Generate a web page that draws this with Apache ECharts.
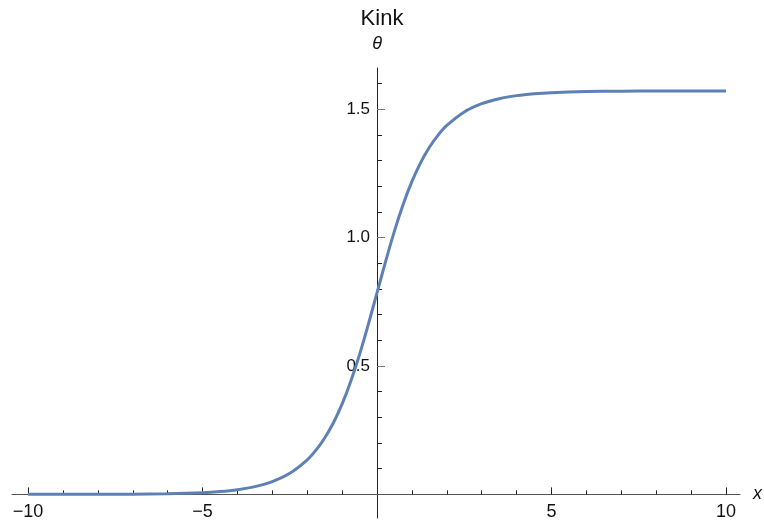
<!DOCTYPE html>
<html>
<head>
<meta charset="utf-8">
<script src="https://cdn.jsdelivr.net/npm/echarts@6/dist/echarts.min.js"></script>
<style>html,body{margin:0;padding:0;background:#fff}#c{width:764px;height:529px}</style>
</head>
<body>
<div id="c"></div>
<script>
const xValues = [-10,-9,-8,-7,-6,-5,-4.5,-4,-3.5,-3,-2.5,-2,-1.75,-1.5,-1.25,-1,-0.75,-0.5,-0.25,0,0.25,0.5,0.75,1,1.25,1.5,1.75,2,2.5,3,3.5,4,4.5,5,6,7,8,9,10];
const thetaValues = [0.0000,0.0001,0.0003,0.0009,0.0025,0.0067,0.0111,0.0183,0.0302,0.0498,0.0819,0.1345,0.1721,0.2195,0.2790,0.3525,0.4415,0.5450,0.6618,0.7854,0.9090,1.0258,1.1293,1.2183,1.2918,1.3513,1.3987,1.4363,1.4889,1.5210,1.5406,1.5525,1.5597,1.5641,1.5683,1.5699,1.5705,1.5707,1.5708];
const xMinorTicks = [-10,-9,-8,-7,-6,-5,-4,-3,-2,-1,1,2,3,4,5,6,7,8,9,10];
const xMajorTicks = [-10,-5,5,10];
const yMinorTicks = [0.1,0.2,0.3,0.4,0.5,0.6,0.7,0.8,0.9,1.0,1.1,1.2,1.3,1.4,1.5,1.6];
const yMajorTicks = [0.5,1.0,1.5];
const titleText = 'Kink';
const xName = 'x';
const yName = 'θ';

const W = 764, H = 529;
const XMIN = -10.46, XMAX = 10.40, YMIN = -0.092, YMAX = 1.66;
const G = {left: 12, right: 24, top: 68, bottom: 11};
const gw = W - G.left - G.right, gh = H - G.top - G.bottom;
// distance from the default axis positions (grid bottom / grid left) to the zero lines
const xAxisOffset = -(gh * (0 - YMIN) / (YMAX - YMIN));
const yAxisOffset = -(gw * (0 - XMIN) / (XMAX - XMIN));

const font = 'Liberation Sans, Arial, sans-serif';
const chart = echarts.init(document.getElementById('c'));
const gridPos = Object.assign({outerBoundsMode: 'none', containLabel: false}, G);
chart.setOption({
  animation: false,
  title: {text: titleText, left: 377, top: 3, textAlign: 'center',
    textStyle: {fontFamily: font, fontSize: 22, fontWeight: 'normal', color: '#111'}},
  grid: [Object.assign({}, gridPos), Object.assign({}, gridPos)],
  xAxis: [{
    gridIndex: 0, type: 'value', min: XMIN, max: XMAX, position: 'bottom', offset: xAxisOffset,
    name: xName, nameLocation: 'end', nameGap: 13,
    nameTextStyle: {fontFamily: font, fontSize: 18, fontStyle: 'italic', color: '#111', verticalAlign: 'middle', padding: [2,0,0,0]},
    axisLine: {show: true, onZero: false, lineStyle: {color: '#555', width: 1}},
    axisTick: {show: true, inside: true, length: 4, customValues: xMinorTicks, lineStyle: {color: '#222'}},
    axisLabel: {show: true, customValues: xMajorTicks, margin: 9, fontFamily: font, fontSize: 18, color: '#111',
      formatter: v => (v < 0 ? '\u2212' + Math.abs(v) : String(v))},
    splitLine: {show: false}
  }, {
    gridIndex: 1, type: 'value', min: XMIN, max: XMAX, position: 'bottom', offset: xAxisOffset,
    axisLine: {show: false, onZero: false},
    axisTick: {show: true, inside: true, length: 7, customValues: xMajorTicks, lineStyle: {color: '#222'}},
    axisLabel: {show: false}, splitLine: {show: false}
  }],
  yAxis: [{
    gridIndex: 0, type: 'value', min: YMIN, max: YMAX, position: 'left', offset: yAxisOffset,
    name: yName, nameLocation: 'end', nameGap: 15,
    nameTextStyle: {fontFamily: font, fontSize: 18, fontStyle: 'italic', color: '#111', align: 'center'},
    axisLine: {show: true, onZero: false, lineStyle: {color: '#222', width: 1}},
    axisTick: {show: true, inside: true, length: 5, customValues: yMinorTicks, lineStyle: {color: '#222'}},
    axisLabel: {show: true, customValues: yMajorTicks, margin: 7, fontFamily: font, fontSize: 17, color: '#111',
      formatter: v => v.toFixed(1)},
    splitLine: {show: false}
  }, {
    gridIndex: 1, type: 'value', min: YMIN, max: YMAX, position: 'left', offset: yAxisOffset,
    axisLine: {show: false, onZero: false},
    axisTick: {show: true, inside: true, length: 8, customValues: yMajorTicks, lineStyle: {color: '#777'}},
    axisLabel: {show: false}, splitLine: {show: false}
  }],
  series: [{
    type: 'line', xAxisIndex: 0, yAxisIndex: 0,
    data: xValues.map((x, i) => [x, thetaValues[i]]),
    smooth: 0.3, showSymbol: false, clip: false,
    lineStyle: {color: '#5e81b5', width: 3}
  }]
});
</script>
</body>
</html>
